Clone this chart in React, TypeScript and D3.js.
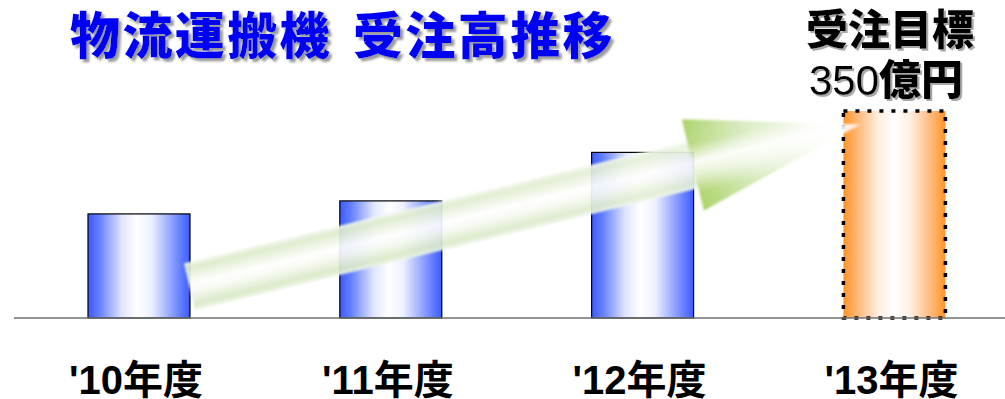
import React from "react";
import * as d3 from "d3";

const categories: string[] = ["'10年度", "'11年度", "'12年度", "'13年度"];
const values: number[] = [176, 198, 280, 350];
const isTarget: boolean[] = [false, false, false, true];
const titleParts: string[] = ["物流運搬機", "受注高推移"];
const targetLabel = "受注目標";
const targetValue = "350";
const targetUnit = "億円";

const W = 1005;
const H = 399;

export default function App() {
  const x = d3
    .scaleBand<string>()
    .domain(categories)
    .range([88, 945.4])
    .paddingInner(0.595)
    .paddingOuter(0);
  const y = d3.scaleLinear().domain([0, 350]).range([318, 111]);

  // arrow geometry (annotation)
  const tail: [number, number] = [189.5, 286.7];
  const tip: [number, number] = [860, 124.5];
  const ang = (Math.atan2(tip[1] - tail[1], tip[0] - tail[0]) * 180) / Math.PI;
  const len = Math.hypot(tip[0] - tail[0], tip[1] - tail[1]);
  const headBase = len - 172;
  const sw = 24;
  const hw = 47;
  const shaft = `M0,${-sw} L${headBase + 2},${-sw} L${headBase + 2},${sw} L0,${sw} Z`;
  const head = `M${headBase},${-hw} L${len},0 L${headBase},${hw} Z`;

  const font = "'Liberation Sans', Arial, 'Noto Sans CJK JP', sans-serif";

  return (
    <svg
      width={W}
      height={H}
      style={{ position: "absolute", left: 0, top: 0, display: "block", background: "#fff" }}
    >
      <defs>
        <linearGradient id="blueG" x1="0" x2="1" y1="0" y2="0">
          <stop offset="0" stopColor="#3a5aff" />
          <stop offset="0.12" stopColor="#6a84ff" />
          <stop offset="0.33" stopColor="#dfe5ff" />
          <stop offset="0.48" stopColor="#ffffff" />
          <stop offset="0.62" stopColor="#eef1ff" />
          <stop offset="0.85" stopColor="#8095ff" />
          <stop offset="1" stopColor="#3a5aff" />
        </linearGradient>
        <linearGradient id="orangeG" x1="0" x2="1" y1="0" y2="0">
          <stop offset="0" stopColor="#ff9426" />
          <stop offset="0.14" stopColor="#ffb87a" />
          <stop offset="0.35" stopColor="#fff0e4" />
          <stop offset="0.5" stopColor="#ffffff" />
          <stop offset="0.65" stopColor="#fff0e4" />
          <stop offset="0.86" stopColor="#ffb87a" />
          <stop offset="1" stopColor="#ff9426" />
        </linearGradient>
        <linearGradient id="shaftCross" gradientUnits="userSpaceOnUse" x1="0" y1={-sw} x2="0" y2={sw}>
          <stop offset="0" stopColor="#f2f7ec" />
          <stop offset="0.12" stopColor="#dcebc9" />
          <stop offset="0.45" stopColor="#ffffff" />
          <stop offset="0.62" stopColor="#f7faf2" />
          <stop offset="0.88" stopColor="#d8e8c4" />
          <stop offset="1" stopColor="#eef5e6" />
        </linearGradient>
        <linearGradient id="shaftLen" gradientUnits="userSpaceOnUse" x1="0" y1="0" x2={headBase} y2="0">
          <stop offset="0" stopColor="#ffffff" stopOpacity="0" />
          <stop offset="0.7" stopColor="#ffffff" stopOpacity="0.1" />
          <stop offset="1" stopColor="#ffffff" stopOpacity="0.3" />
        </linearGradient>
        <linearGradient id="headLen" gradientUnits="userSpaceOnUse" x1={headBase} y1="0" x2={len} y2="0">
          <stop offset="0" stopColor="#a6d05e" />
          <stop offset="0.35" stopColor="#d4e9b8" />
          <stop offset="0.75" stopColor="#f6faf0" />
          <stop offset="1" stopColor="#ffffff" stopOpacity="0.2" />
        </linearGradient>
        <linearGradient id="headCross" gradientUnits="userSpaceOnUse" x1="0" y1={-hw} x2="0" y2={hw}>
          <stop offset="0" stopColor="#ffffff" stopOpacity="0" />
          <stop offset="0.28" stopColor="#ffffff" stopOpacity="0.15" />
          <stop offset="0.47" stopColor="#ffffff" stopOpacity="0.95" />
          <stop offset="0.6" stopColor="#ffffff" stopOpacity="0.7" />
          <stop offset="0.8" stopColor="#ffffff" stopOpacity="0.05" />
          <stop offset="1" stopColor="#ffffff" stopOpacity="0" />
        </linearGradient>
        <filter id="soft" x="-5%" y="-20%" width="110%" height="140%">
          <feGaussianBlur stdDeviation="1.1" />
        </filter>
        <filter id="shadow" x="-5%" y="-20%" width="110%" height="150%">
          <feGaussianBlur in="SourceAlpha" stdDeviation="0.8" result="b" />
          <feOffset in="b" dx="3" dy="3" result="o" />
          <feFlood floodColor="#9a9a9a" result="c" />
          <feComposite in="c" in2="o" operator="in" result="s" />
          <feMerge>
            <feMergeNode in="s" />
            <feMergeNode in="SourceGraphic" />
          </feMerge>
        </filter>
        <filter id="shadow2" x="-5%" y="-20%" width="110%" height="150%">
          <feGaussianBlur in="SourceAlpha" stdDeviation="0.7" result="b" />
          <feOffset in="b" dx="2" dy="2" result="o" />
          <feFlood floodColor="#a8a8a8" result="c" />
          <feComposite in="c" in2="o" operator="in" result="s" />
          <feMerge>
            <feMergeNode in="s" />
            <feMergeNode in="SourceGraphic" />
          </feMerge>
        </filter>
      </defs>

      {/* title */}
      <text
        x={70}
        y={54}
        fontFamily="'Noto Sans CJK JP', sans-serif"
        fontWeight={900}
        fontSize={50}
        letterSpacing={2.4}
        fill="#0000f5"
        filter="url(#shadow)"
      >
        <tspan>{titleParts[0]}</tspan>
        <tspan x={353}>{titleParts[1]}</tspan>
      </text>

      {/* target annotation */}
      <text
        x={806}
        y={45}
        fontFamily="'Noto Sans CJK JP', sans-serif"
        fontWeight={900}
        fontSize={42}
        fill="#000"
        filter="url(#shadow2)"
      >
        {targetLabel}
      </text>
      <text x={809} y={95} fontSize={42} fill="#000" fontFamily={font} filter="url(#shadow2)">
        <tspan fontFamily="'Liberation Sans', Arial, sans-serif">{targetValue}</tspan>
        <tspan fontFamily="'Noto Sans CJK JP', sans-serif" fontWeight={900}>
          {targetUnit}
        </tspan>
      </text>

      {/* bars */}
      {categories.map((c, i) => {
        const x0 = x(c)!;
        const bw = x.bandwidth();
        const y0 = y(values[i]);
        const h = y(0) - y0;
        return isTarget[i] ? (
          <rect
            key={c}
            x={x0}
            y={y0}
            width={bw}
            height={h}
            fill="url(#orangeG)"
            stroke="#000"
            strokeWidth={3.5}
            strokeDasharray="4 8"
          />
        ) : (
          <rect key={c} x={x0} y={y0} width={bw} height={h} fill="url(#blueG)" stroke="#000" strokeWidth={1.2} />
        );
      })}

      {/* baseline */}
      <line x1={14} x2={W} y1={y(0)} y2={y(0)} stroke="#707070" strokeWidth={1.5} />

      {/* arrow */}
      <g transform={`translate(${tail[0]},${tail[1]}) rotate(${ang})`} filter="url(#soft)" opacity={0.92}>
        <path d={shaft} fill="url(#shaftCross)" />
        <path d={shaft} fill="url(#shaftLen)" />
        <path d={head} fill="url(#headLen)" />
        <path d={head} fill="url(#headCross)" />
      </g>

      {/* category labels */}
      {categories.map((c) => (
        <text
          key={c}
          x={x(c)! + x.bandwidth() / 2 - 3}
          y={394}
          textAnchor="middle"
          fontFamily={font}
          fontWeight="bold"
          fontSize={40}
          fill="#000"
        >
          {c}
        </text>
      ))}
    </svg>
  );
}
